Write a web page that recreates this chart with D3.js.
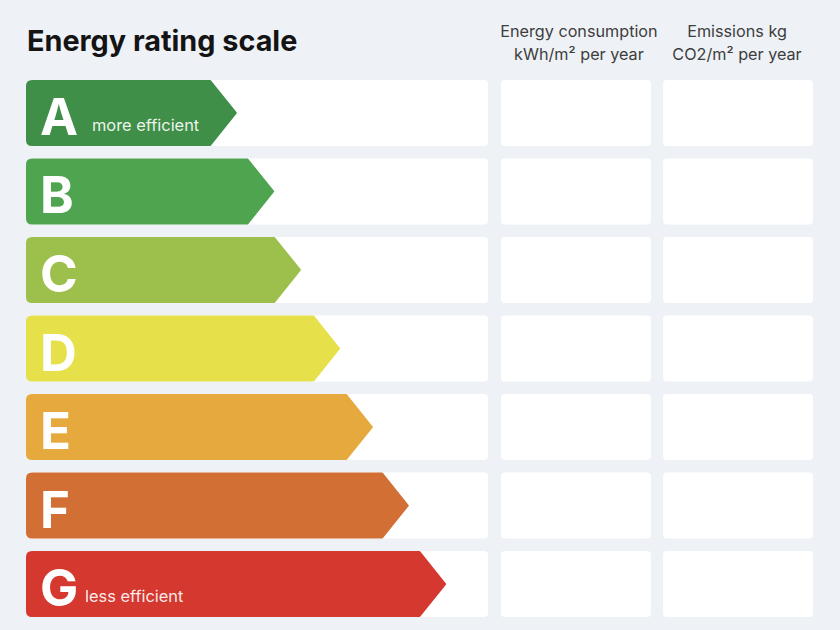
<!DOCTYPE html>
<html>
<head>
<meta charset="utf-8">
<script src="https://cdn.jsdelivr.net/npm/d3@7"></script>
<style>
  html, body { margin: 0; padding: 0; background: #eef2f7; }
  svg { display: block; }
</style>
</head>
<body>
<svg id="chart" width="840" height="630"></svg>
<script>
// rating classes, top (best) to bottom (worst)
var ratings = ["A", "B", "C", "D", "E", "F", "G"];
// arrow length, percent of the rating track
var arrowLength = [45.3, 53.4, 59.2, 67.7, 74.8, 82.6, 90.7];
var ratingColors = ["#3f8f48", "#4fa54f", "#9cc04b", "#e6e04b", "#e6a93d", "#d26f35", "#d5382f"];
var notes = ["more efficient", "", "", "", "", "", "less efficient"];
var columnHeads = [
  ["Energy consumption", "kWh/m² per year"],
  ["Emissions kg", "CO2/m² per year"]
];

var svg = d3.select("#chart");
var font = "Inter, 'Noto Sans', sans-serif";

var y = d3.scaleBand()
  .domain(ratings)
  .range([80, 617])
  .paddingInner(0.16);

var x = d3.scaleLinear()
  .domain([0, 100])
  .range([27, 488]);

// value columns
var cols = d3.scaleBand()
  .domain([0, 1])
  .range([501, 813])
  .paddingInner(0.075);

svg.append("text")
  .attr("x", 27)
  .attr("y", 51)
  .attr("font-family", font)
  .attr("font-weight", 700)
  .attr("font-size", 28.8)
  .attr("fill", "#141414")
  .text("Energy rating scale");

var heads = svg.selectAll("text.head")
  .data(columnHeads)
  .enter()
  .append("text")
  .attr("class", "head")
  .attr("font-family", font)
  .attr("font-size", 16.2)
  .attr("fill", "#3d3d3d")
  .attr("text-anchor", "middle");
heads.selectAll("tspan")
  .data(function(d, i) { return d.map(function(t) { return {t: t, i: i}; }); })
  .enter()
  .append("tspan")
  .attr("x", function(d) { return cols(d.i) + cols.bandwidth() / 2 + (d.i === 0 ? 3 : -1); })
  .attr("y", function(d, j) { return 37 + j * 23; })
  .text(function(d) { return d.t; });

// white tracks behind arrows
svg.selectAll("rect.track")
  .data(ratings)
  .enter()
  .append("rect")
  .attr("class", "track")
  .attr("x", x(0))
  .attr("y", function(d) { return y(d); })
  .attr("width", x(100) - x(0))
  .attr("height", y.bandwidth())
  .attr("rx", 4)
  .attr("fill", "#ffffff");

// empty value cells
ratings.forEach(function(r) {
  svg.selectAll(null)
    .data([0, 1])
    .enter()
    .append("rect")
    .attr("x", function(c) { return cols(c); })
    .attr("y", y(r))
    .attr("width", cols.bandwidth())
    .attr("height", y.bandwidth())
    .attr("rx", 4)
    .attr("fill", "#ffffff");
});

function arrowPath(i) {
  var r = ratings[i];
  var x0 = x(0), tip = x(arrowLength[i]);
  var y0 = y(r) + 1, y1 = y(r) + y.bandwidth() - 1, ym = (y0 + y1) / 2;
  var body = tip - (y1 - y0) * 0.4;
  var c = 5;
  return "M" + (x0 + c) + "," + y0 +
    "L" + body + "," + y0 +
    "L" + tip + "," + ym +
    "L" + body + "," + y1 +
    "L" + (x0 + c) + "," + y1 +
    "Q" + x0 + "," + y1 + " " + x0 + "," + (y1 - c) +
    "L" + x0 + "," + (y0 + c) +
    "Q" + x0 + "," + y0 + " " + (x0 + c) + "," + y0 + "Z";
}

svg.selectAll("path.arrow")
  .data(ratings)
  .enter()
  .append("path")
  .attr("class", "arrow")
  .attr("d", function(d, i) { return arrowPath(i); })
  .attr("fill", function(d, i) { return ratingColors[i]; })
  .attr("stroke", function(d, i) { return ratingColors[i]; })
  .attr("stroke-width", 2)
  .attr("stroke-linejoin", "round");

svg.selectAll("text.letter")
  .data(ratings)
  .enter()
  .append("text")
  .attr("class", "letter")
  .attr("x", 40)
  .attr("y", function(d) { return y(d) + y.bandwidth() / 2 + 22; })
  .attr("font-family", font)
  .attr("font-weight", 700)
  .attr("font-size", 51)
  .attr("fill", "#ffffff")
  .text(function(d) { return d; });

svg.selectAll("text.note")
  .data(ratings)
  .enter()
  .append("text")
  .attr("class", "note")
  .attr("x", function(d, i) { return i === 0 ? 92 : 85; })
  .attr("y", function(d) { return y(d) + y.bandwidth() / 2 + 18; })
  .attr("font-family", font)
  .attr("font-size", 16.4)
  .attr("fill", "#ffffff")
  .attr("fill-opacity", 0.92)
  .text(function(d, i) { return notes[i]; });
</script>
</body>
</html>
